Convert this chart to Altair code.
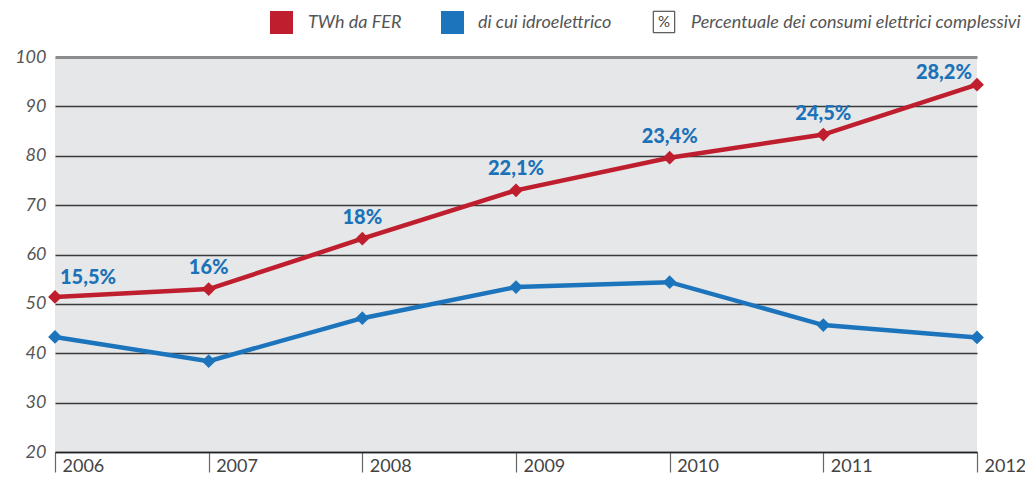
import altair as alt
import pandas as pd

years = [2006, 2007, 2008, 2009, 2010, 2011, 2012]
fer = [51.4, 53.0, 63.2, 73.0, 79.6, 84.3, 94.4]
hydro = [43.3, 38.4, 47.1, 53.4, 54.4, 45.7, 43.2]
pct_labels = ["15,5%", "16%", "18%", "22,1%", "23,4%", "24,5%", "28,2%"]
series_names = ["TWh da FER", "di cui idroelettrico"]
series_colors = ["#BE1E2D", "#1C75BC"]
pct_legend = "Percentuale dei consumi elettrici complessivi"
y_ticks = [20, 30, 40, 50, 60, 70, 80, 90, 100]

FONT = "Lato"
LABEL_BLUE = "#1B72B8"
GRAY_TEXT = "#555555"

df = pd.DataFrame({
    "year": years * 2,
    "value": fer + hydro,
    "series": [series_names[0]] * len(years) + [series_names[1]] * len(years),
})
df_pct = pd.DataFrame({"year": years, "value": fer, "label": pct_labels})

color_scale = alt.Scale(domain=series_names, range=series_colors)
x_enc = alt.X("year:Q", scale=alt.Scale(domain=[2006, 2012], nice=False, zero=False),
              axis=alt.Axis(values=years, format="d", title=None, grid=False,
                            domainColor="#222222", domainWidth=1.5,
                            tickColor="#666666", tickSize=20, tickWidth=1.2,
                            labelAlign="left", labelOffset=7, labelBaseline="alphabetic",
                            labelPadding=-1, labelFont=FONT, labelFontSize=18,
                            labelColor="#444444"))
y_enc = alt.Y("value:Q", scale=alt.Scale(domain=[20, 100], nice=False, zero=False),
              axis=alt.Axis(values=y_ticks, title=None, ticks=False, domain=False,
                            grid=True,
                            gridColor=alt.condition("datum.value == 100", alt.value("#8c8c8c"), alt.value("#3a3a3a")),
                            gridWidth=alt.condition("datum.value == 100", alt.value(3), alt.value(1.3)),
                            labelFont=FONT, labelFontSize=18, labelFontStyle="italic",
                            labelColor=GRAY_TEXT, labelPadding=9))

base = alt.Chart(df)
lines = base.mark_line(strokeWidth=4.5).encode(
    x=x_enc, y=y_enc,
    color=alt.Color("series:N", scale=color_scale, legend=None),
    detail="series:N",
)
points = base.mark_point(shape="diamond", filled=True, size=190, opacity=1).encode(
    x="year:Q", y="value:Q",
    color=alt.Color("series:N", scale=color_scale, legend=None),
)

pct_base = alt.Chart(df_pct)
txt_style = dict(font=FONT, fontSize=20, fontWeight=900, color=LABEL_BLUE, baseline="middle")
pct_mid = pct_base.mark_text(align="center", dy=-21, **txt_style).encode(
    x="year:Q", y="value:Q", text="label:N"
).transform_filter("datum.year > 2006 && datum.year < 2012")
pct_first = pct_base.mark_text(align="left", dx=5, dy=-19, **txt_style).encode(
    x="year:Q", y="value:Q", text="label:N"
).transform_filter("datum.year == 2006")
pct_last = pct_base.mark_text(align="right", dx=-5, dy=-12, **txt_style).encode(
    x="year:Q", y="value:Q", text="label:N"
).transform_filter("datum.year == 2012")

# Legend (drawn manually)
leg_text_style = dict(font=FONT, fontSize=18, fontStyle="italic", color=GRAY_TEXT,
                      align="left", baseline="middle")
def one(label):
    return alt.Chart(pd.DataFrame({"label": [label]}))

leg_sq_red = one(series_names[0]).mark_square(size=529, filled=True, color=series_colors[0], opacity=1).encode(
    x=alt.value(226.5), y=alt.value(-34.5))
leg_tx_red = one(series_names[0]).mark_text(**leg_text_style).encode(
    x=alt.value(253), y=alt.value(-34.5), text="label:N")
leg_sq_blue = one(series_names[1]).mark_square(size=529, filled=True, color=series_colors[1], opacity=1).encode(
    x=alt.value(397.5), y=alt.value(-34.5))
leg_tx_blue = one(series_names[1]).mark_text(**leg_text_style).encode(
    x=alt.value(423), y=alt.value(-34.5), text="label:N")
leg_sq_pct = one("%").mark_square(size=460, filled=True, fill="white", stroke="#333333",
                                  strokeWidth=1, opacity=1).encode(
    x=alt.value(609), y=alt.value(-35))
leg_pct_sym = one("%").mark_text(font=FONT, fontSize=15, color="#444444", align="center",
                                 baseline="middle").encode(
    x=alt.value(609), y=alt.value(-35), text="label:N")
leg_tx_pct = one(pct_legend).mark_text(**leg_text_style).encode(
    x=alt.value(636), y=alt.value(-34.5), text="label:N")

chart = alt.layer(
    lines, points, pct_mid, pct_first, pct_last,
    leg_sq_red, leg_tx_red, leg_sq_blue, leg_tx_blue, leg_sq_pct, leg_pct_sym, leg_tx_pct,
).properties(
    width=922, height=395,
    autosize=alt.AutoSizeParams(type="none"),
    padding={"left": 47, "top": 49, "right": 48, "bottom": 26},
    background="white",
).configure_view(fill="#E6E7E8", stroke=None)

chart.save("out.html", embed_options={"renderer": "svg", "actions": False})
